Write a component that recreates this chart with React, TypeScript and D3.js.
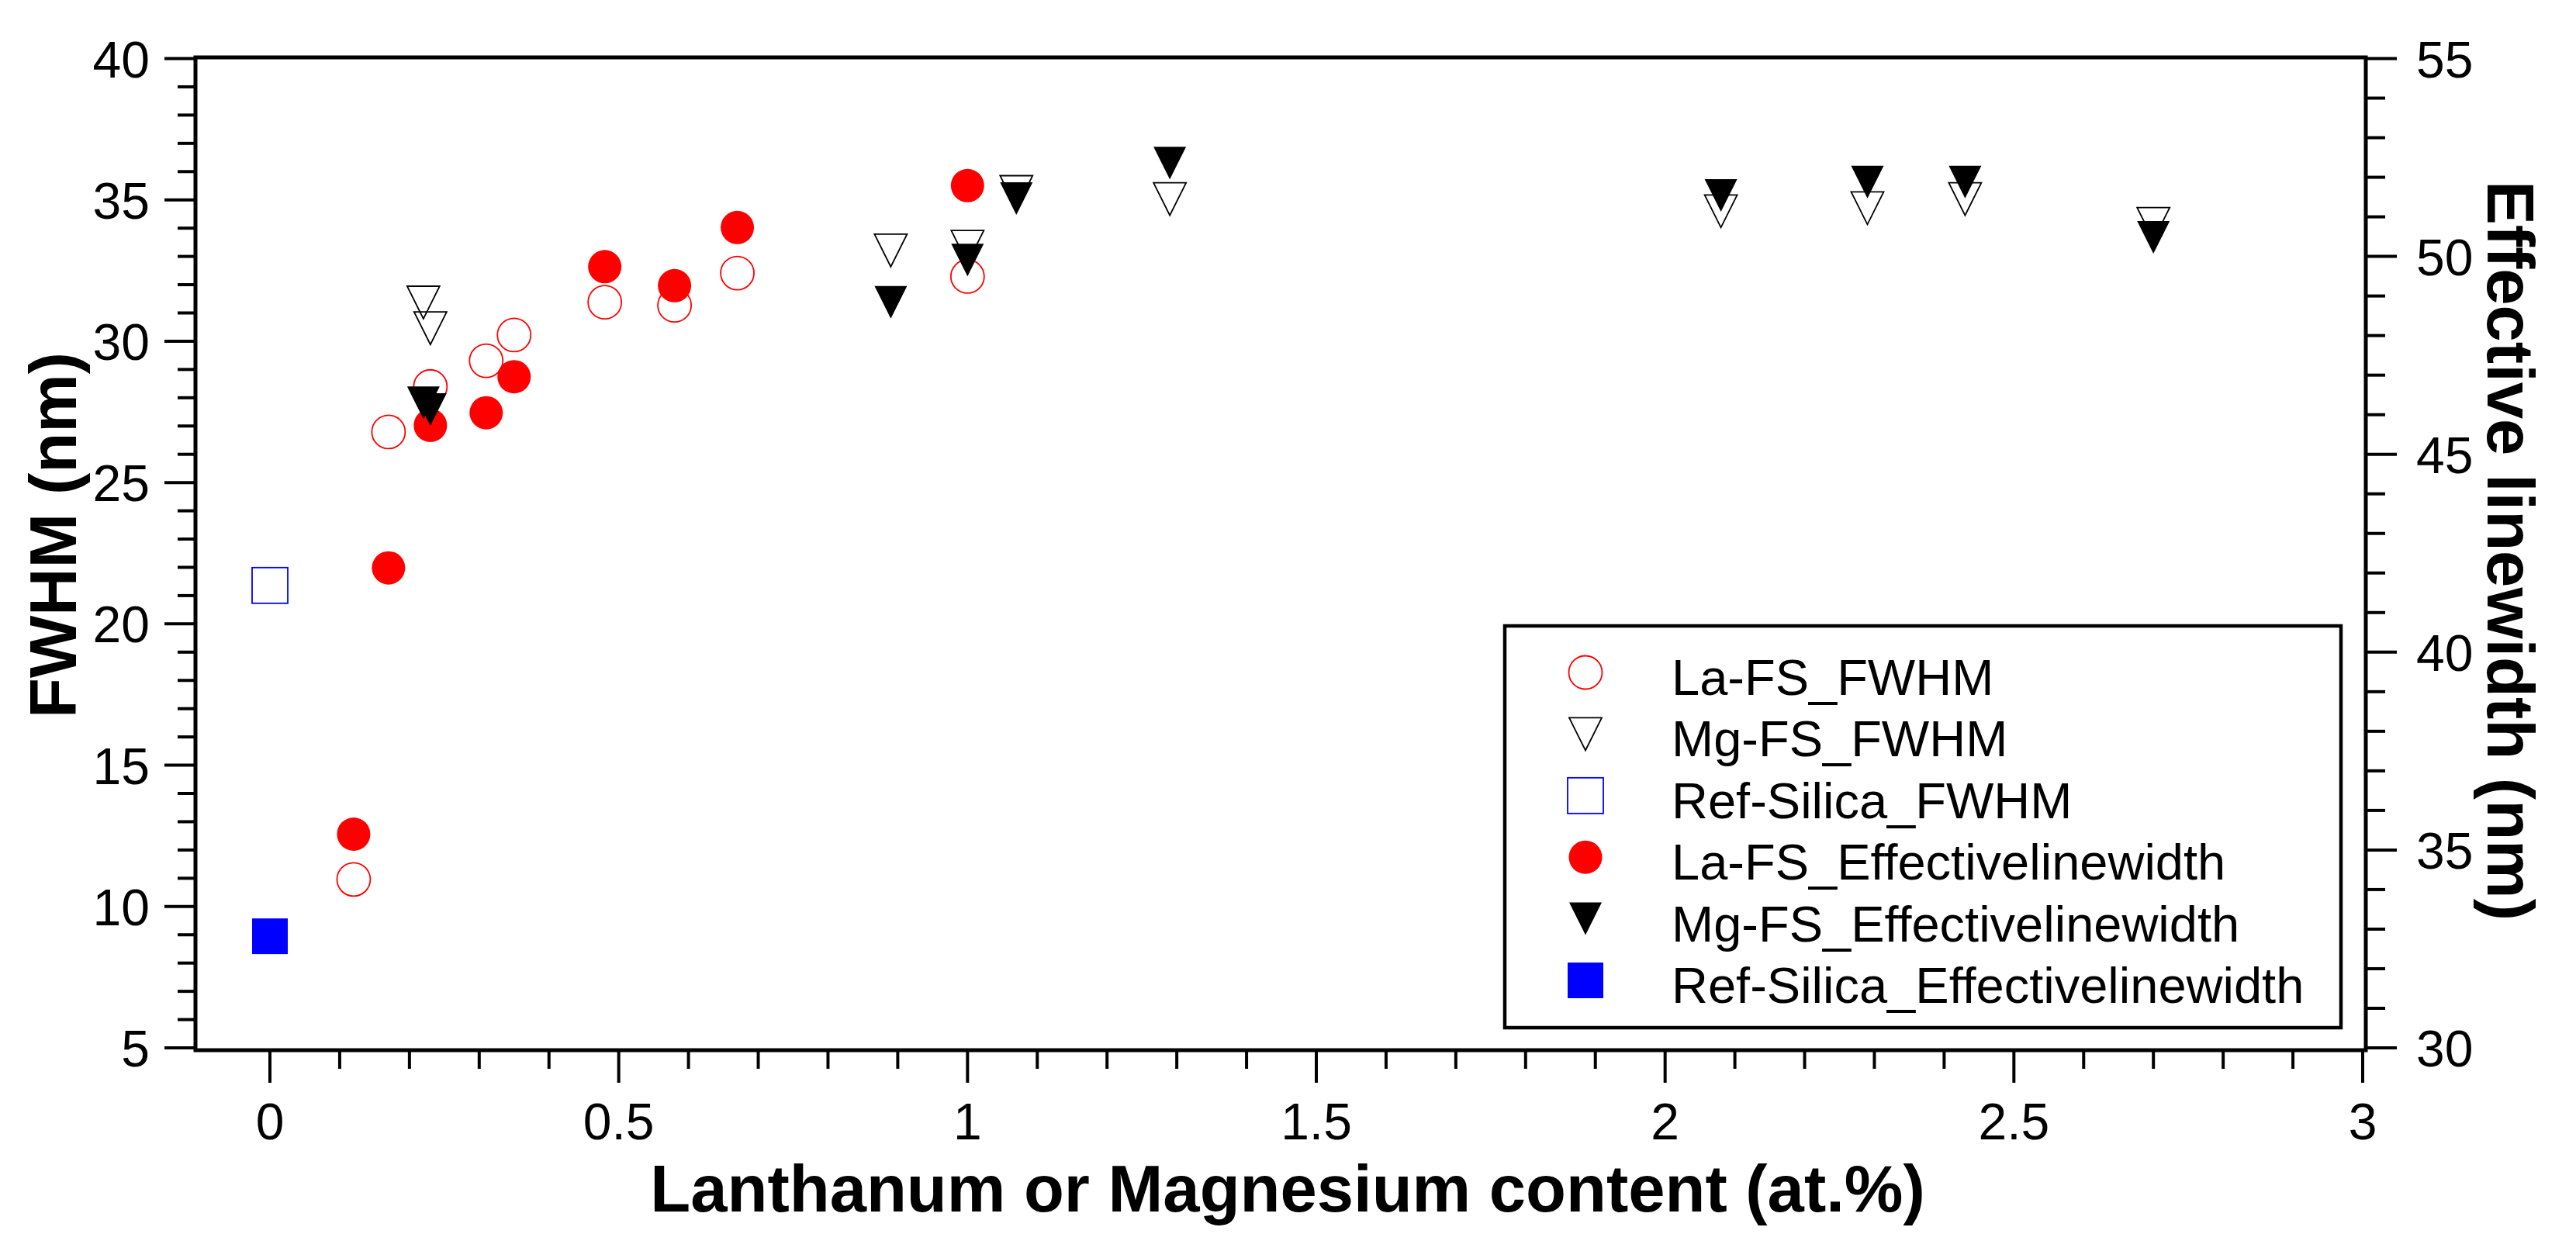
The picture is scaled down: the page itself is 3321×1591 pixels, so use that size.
import React from 'react';
import * as d3 from 'd3';

// ---------- data ----------
const laX = [0.12, 0.17, 0.23, 0.31, 0.35, 0.48, 0.58, 0.67, 1.0];
const laFWHM = [10.96, 26.79, 28.4, 29.31, 30.22, 31.38, 31.27, 32.41, 32.29];
const laEff = [35.4, 42.13, 45.73, 46.05, 46.96, 49.74, 49.26, 50.73, 51.79];

const mgX = [0.22, 0.23, 0.89, 1.0, 1.07, 1.29, 2.08, 2.29, 2.43, 2.7];
const mgFWHM = [31.37, 30.46, 33.21, 33.34, 35.28, 35.03, 34.6, 34.71, 35.03, 34.15];
const mgEff = [46.3, 46.13, 48.84, 49.91, 51.46, 52.36, 51.54, 51.88, 51.88, 50.48];

const refX = [0];
const refFWHM = [21.36];
const refEff = [32.82];

const xTicks = [0, 0.5, 1, 1.5, 2, 2.5, 3];
const xTickLabels = ['0', '0.5', '1', '1.5', '2', '2.5', '3'];
const yLeftTicks = [5, 10, 15, 20, 25, 30, 35, 40];
const yRightTicks = [30, 35, 40, 45, 50, 55];

const legendLabels = [
  'La-FS_FWHM',
  'Mg-FS_FWHM',
  'Ref-Silica_FWHM',
  'La-FS_Effectivelinewidth',
  'Mg-FS_Effectivelinewidth',
  'Ref-Silica_Effectivelinewidth',
];

const xTitle = 'Lanthanum or Magnesium content (at.%)';
const yLeftTitle = 'FWHM (nm)';
const yRightTitle = 'Effective linewidth (nm)';

// ---------- layout ----------
const W = 3321;
const H = 1591;
const frame = { left: 252, right: 3050, top: 74, bottom: 1354 };
const FONT = "'Liberation Sans', Arial, sans-serif";

const x = d3.scaleLinear().domain([0, 3]).range([348, 3046]);
const yL = d3.scaleLinear().domain([5, 40]).range([1351, 75.5]);
const yR = d3.scaleLinear().domain([30, 55]).range([1351, 75.5]);

type Shape = 'circle' | 'tri' | 'square';

function Marker({ shape, cx, cy, filled, color }: { shape: Shape; cx: number; cy: number; filled: boolean; color: string }) {
  const fill = filled ? color : 'none';
  const stroke = color;
  const sw = filled ? 0 : 1.8;
  if (shape === 'circle') {
    return <circle cx={cx} cy={cy} r={21.5} fill={fill} stroke={stroke} strokeWidth={sw} />;
  }
  if (shape === 'square') {
    return <rect x={cx - 23} y={cy - 23} width={46} height={46} fill={fill} stroke={stroke} strokeWidth={sw} />;
  }
  const p = d3.path();
  p.moveTo(cx - 21, cy - 21);
  p.lineTo(cx + 21, cy - 21);
  p.lineTo(cx, cy + 21);
  p.closePath();
  return <path d={p.toString()} fill={fill} stroke={stroke} strokeWidth={sw} />;
}

const series: { xs: number[]; ys: number[]; axis: 'L' | 'R'; shape: Shape; filled: boolean; color: string }[] = [
  { xs: laX, ys: laFWHM, axis: 'L', shape: 'circle', filled: false, color: '#ff0000' },
  { xs: mgX, ys: mgFWHM, axis: 'L', shape: 'tri', filled: false, color: '#000000' },
  { xs: refX, ys: refFWHM, axis: 'L', shape: 'square', filled: false, color: '#0000ff' },
  { xs: laX, ys: laEff, axis: 'R', shape: 'circle', filled: true, color: '#ff0000' },
  { xs: mgX, ys: mgEff, axis: 'R', shape: 'tri', filled: true, color: '#000000' },
  { xs: refX, ys: refEff, axis: 'R', shape: 'square', filled: true, color: '#0000ff' },
];

export default function App() {
  const xMinor = d3.range(1, 30).map((i) => i / 10).filter((v) => Math.abs(v * 2 - Math.round(v * 2)) > 1e-6);
  const yLMinor = d3.range(5, 41).filter((v) => v % 5 !== 0);
  const yRMinor = d3.range(30, 56).filter((v) => v % 5 !== 0);

  const legend = { left: 1940, top: 807, right: 3018, bottom: 1325 };
  const rowY = d3.scaleLinear().domain([0, 5]).range([867, 1264]);
  const tickFS = 66;
  const titleFS = 85;

  return (
    <svg width={W} height={H} style={{ position: 'absolute', left: 0, top: 0, background: '#fff' }} xmlns="http://www.w3.org/2000/svg">
      <rect x={0} y={0} width={W} height={H} fill="#fff" />

      {/* markers */}
      {series.map((s, si) =>
        s.xs.map((xv, i) => (
          <Marker
            key={`${si}-${i}`}
            shape={s.shape}
            cx={x(xv)}
            cy={s.axis === 'L' ? yL(s.ys[i]) : yR(s.ys[i])}
            filled={s.filled}
            color={s.color}
          />
        ))
      )}

      {/* frame */}
      <rect
        x={frame.left}
        y={frame.top}
        width={frame.right - frame.left}
        height={frame.bottom - frame.top}
        fill="none"
        stroke="#000"
        strokeWidth={5}
      />

      {/* x ticks */}
      {xTicks.map((v, i) => (
        <g key={`xt${i}`}>
          <line x1={x(v)} x2={x(v)} y1={frame.bottom} y2={frame.bottom + 42} stroke="#000" strokeWidth={4} />
          <text x={x(v)} y={1469} textAnchor="middle" fontFamily={FONT} fontSize={tickFS}>
            {xTickLabels[i]}
          </text>
        </g>
      ))}
      {xMinor.map((v, i) => (
        <line key={`xm${i}`} x1={x(v)} x2={x(v)} y1={frame.bottom} y2={frame.bottom + 24} stroke="#000" strokeWidth={4} />
      ))}

      {/* left y ticks */}
      {yLeftTicks.map((v) => (
        <g key={`yl${v}`}>
          <line x1={frame.left - 40} x2={frame.left} y1={yL(v)} y2={yL(v)} stroke="#000" strokeWidth={4} />
          <text x={193} y={yL(v) + 24} textAnchor="end" fontFamily={FONT} fontSize={tickFS}>
            {v}
          </text>
        </g>
      ))}
      {yLMinor.map((v) => (
        <line key={`ylm${v}`} x1={frame.left - 23} x2={frame.left} y1={yL(v)} y2={yL(v)} stroke="#000" strokeWidth={4} />
      ))}

      {/* right y ticks */}
      {yRightTicks.map((v) => (
        <g key={`yr${v}`}>
          <line x1={frame.right} x2={frame.right + 40} y1={yR(v)} y2={yR(v)} stroke="#000" strokeWidth={4} />
          <text x={3115} y={yR(v) + 24} textAnchor="start" fontFamily={FONT} fontSize={tickFS}>
            {v}
          </text>
        </g>
      ))}
      {yRMinor.map((v) => (
        <line key={`yrm${v}`} x1={frame.right} x2={frame.right + 25} y1={yR(v)} y2={yR(v)} stroke="#000" strokeWidth={4} />
      ))}

      {/* axis titles */}
      <text x={1660} y={1562} textAnchor="middle" fontFamily={FONT} fontWeight="bold" fontSize={titleFS}>
        {xTitle}
      </text>
      <text
        transform={`translate(98, 690) rotate(-90)`}
        textAnchor="middle"
        fontFamily={FONT}
        fontWeight="bold"
        fontSize={titleFS}
      >
        {yLeftTitle}
      </text>
      <text
        transform={`translate(3207, 710) rotate(90)`}
        textAnchor="middle"
        fontFamily={FONT}
        fontWeight="bold"
        fontSize={titleFS}
      >
        {yRightTitle}
      </text>

      {/* legend */}
      <rect
        x={legend.left}
        y={legend.top}
        width={legend.right - legend.left}
        height={legend.bottom - legend.top}
        fill="#fff"
        stroke="#000"
        strokeWidth={4.5}
      />
      {legendLabels.map((lab, i) => {
        const s = series[i];
        const cy = rowY(i);
        return (
          <g key={`lg${i}`}>
            <Marker shape={s.shape} cx={2044} cy={cy} filled={s.filled} color={s.color} />
            <text x={2155} y={cy + 29} fontFamily={FONT} fontSize={65}>
              {lab}
            </text>
          </g>
        );
      })}
    </svg>
  );
}
